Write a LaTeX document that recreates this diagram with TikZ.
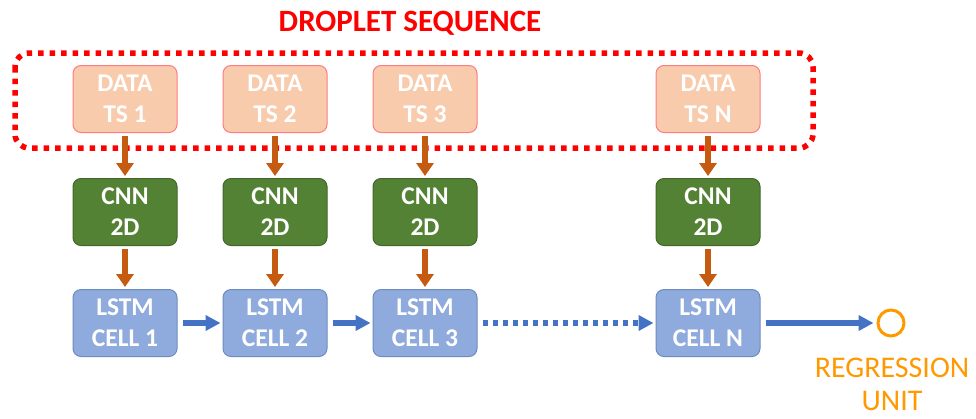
\documentclass[tikz,border=0pt]{standalone}
\usepackage{fontspec}
\setmainfont{Carlito}
\usetikzlibrary{arrows.meta}
\definecolor{datafill}{HTML}{F8CBAD}
\definecolor{dataline}{HTML}{FF7C80}
\definecolor{cnnfill}{HTML}{548235}
\definecolor{cnnline}{HTML}{41672A}
\definecolor{lstmfill}{HTML}{8FAADC}
\definecolor{lstmline}{HTML}{6C8EBF}
\definecolor{feedorange}{HTML}{C55A11}
\definecolor{seqblue}{HTML}{4472C4}
\definecolor{regorange}{HTML}{FF9900}

\begin{document}
\begin{tikzpicture}[x=1pt,y=-1pt,
	box/.style={rounded corners=8pt, minimum width=104pt, minimum height=67pt, inner sep=0pt,
		align=center, text=white, font=\fontsize{25.5}{31}\selectfont\bfseries, line width=1pt},
	datbox/.style={box, fill=datafill, draw=dataline},
	cnnbox/.style={box, fill=cnnfill, draw=cnnline},
	lstmbox/.style={box, fill=lstmfill, draw=lstmline},
	feed/.style={draw=feedorange, line width=5.5pt, -{Triangle[width=17pt,length=13pt]}, shorten <=3pt, shorten >=2pt},
	link/.style={draw=seqblue, line width=5.5pt, -{Triangle[width=15pt,length=15pt]}, shorten <=5pt, shorten >=2pt}]
\useasboundingbox (0,0) rectangle (976,418);
% sequence frame and title
\draw[red, line width=5.5pt, dash pattern=on 5.5pt off 6pt, rounded corners=14pt] (15,53) rectangle (813,148);
\node[text=red, font=\fontsize{31}{36}\selectfont\bfseries] (title) at (410,23) {DROPLET SEQUENCE};
% data time steps
\node[datbox] (d1) at (125,99) {DATA\\TS 1};
\node[datbox] (d2) at (275,99) {DATA\\TS 2};
\node[datbox] (d3) at (425,99) {DATA\\TS 3};
\node[datbox] (dN) at (708,99) {DATA\\TS N};
% convolution
\node[cnnbox] (c1) at (125,212) {CNN\\2D};
\node[cnnbox] (c2) at (275,212) {CNN\\2D};
\node[cnnbox] (c3) at (425,212) {CNN\\2D};
\node[cnnbox] (cN) at (708,212) {CNN\\2D};
% recurrent cells
\node[lstmbox] (l1) at (125,323) {LSTM\\CELL 1};
\node[lstmbox] (l2) at (275,323) {LSTM\\CELL 2};
\node[lstmbox] (l3) at (425,323) {LSTM\\CELL 3};
\node[lstmbox] (lN) at (708,323) {LSTM\\CELL N};
% output
\node[circle, draw=regorange, line width=3pt, minimum size=26pt, inner sep=0pt] (reg) at (891,323) {};
\node[text=regorange, align=center, inner sep=0pt, font=\fontsize{30}{33}\selectfont] (regtxt) at (892,384) {REGRESSION\\UNIT};
% connections
\foreach \i in {1,2,3,N} {
	\draw[feed] (d\i) -- (c\i);
	\draw[feed] (c\i) -- (l\i);
}
\draw[link] (l1) -- (l2);
\draw[link] (l2) -- (l3);
\draw[link, dash pattern=on 5pt off 5pt, -{Triangle[width=15pt,length=15pt]}] (l3) -- (lN);
\draw[link, shorten >=3pt] (lN) -- (reg);
\end{tikzpicture}
\end{document}
